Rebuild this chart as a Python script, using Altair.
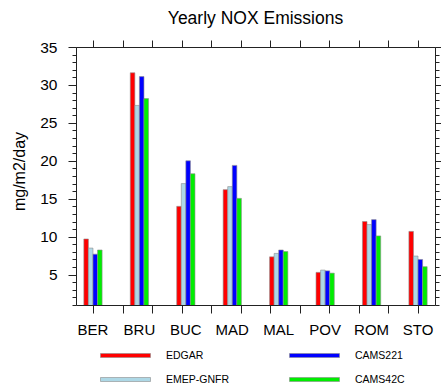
import altair as alt
import pandas as pd

sites = ["BER", "BRU", "BUC", "MAD", "MAL", "POV", "ROM", "STO"]
models = ["EDGAR", "EMEP-GNFR", "CAMS221", "CAMS42C"]
edgar = [9.7, 31.6, 14.0, 16.2, 7.35, 5.3, 12.0, 10.7]
emep = [8.5, 27.3, 17.0, 16.6, 7.8, 5.6, 11.6, 7.45]
cams221 = [7.7, 31.1, 20.0, 19.4, 8.25, 5.5, 12.25, 7.0]
cams42c = [8.25, 28.2, 18.3, 15.05, 8.05, 5.2, 10.1, 6.05]

model_colors = ["#ff0000", "#add8e6", "#0000ff", "#00ee00"]

y_major = [5, 10, 15, 20, 25, 30, 35]
y_minor = list(range(1, 36))
x_ticks = list(range(12))

series = {"EDGAR": edgar, "EMEP-GNFR": emep, "CAMS221": cams221, "CAMS42C": cams42c}
rows = []
for m in models:
    for s, v in zip(sites, series[m]):
        rows.append({"site": s, "model": m, "value": v})
df = pd.DataFrame(rows)

ydom = [1, 35]
xdom = [-0.575, 11.575]
FONT = "Liberation Sans"

bars = alt.Chart(df).mark_bar(stroke="#8c8c8c", strokeWidth=0.6, clip=True).encode(
    x=alt.X("site:N", sort=sites,
            scale=alt.Scale(paddingInner=0.607, paddingOuter=0.169),
            axis=alt.Axis(orient="bottom", ticks=False, labelAngle=0, labelFontSize=15,
                          labelPadding=17, labelFont=FONT, labelColor="black",
                          domain=True, title=None)),
    xOffset=alt.XOffset("model:N", sort=models,
                        scale=alt.Scale(paddingInner=0, paddingOuter=0)),
    y=alt.Y("value:Q", scale=alt.Scale(domain=ydom, nice=False, zero=False),
            axis=alt.Axis(orient="left", values=y_major, tickSize=8, labelPadding=11,
                          labelFontSize=15.5, labelFont=FONT, labelColor="black",
                          domain=True, grid=False,
                          title="mg/m2/day", titleFont=FONT, titleFontSize=16,
                          titleFontWeight="normal", titleColor="black",
                          titleAngle=270, titleBaseline="alphabetic",
                          titleAlign="center", titleX=-51.4, titleY=124)),
    color=alt.Color("model:N",
                    scale=alt.Scale(domain=models, range=model_colors),
                    legend=alt.Legend(orient="none", legendX=24, legendY=303,
                                      columns=2, title=None,
                                      symbolType="M-1,-0.4L9,-0.4L9,0.4L-1,0.4Z",
                                      symbolSize=100, symbolStrokeWidth=0.6,
                                      labelFontSize=10.5, labelFont=FONT,
                                      labelColor="black", labelOffset=55,
                                      rowPadding=13, columnPadding=59,
                                      symbolOpacity=1)),
)

dummy = pd.DataFrame({"xt": [x_ticks[0]], "yt": [y_minor[0]]})

layer_b = alt.Chart(dummy).mark_point(opacity=0).encode(
    x=alt.X("xt:Q", scale=alt.Scale(domain=xdom, nice=False, zero=False),
            axis=alt.Axis(orient="bottom", values=x_ticks, tickSize=8, labels=False,
                          domain=False, grid=False, title=None)),
    y=alt.Y("yt:Q", scale=alt.Scale(domain=ydom, nice=False, zero=False),
            axis=alt.Axis(orient="left", values=y_minor, tickSize=4, labels=False,
                          domain=False, grid=False, title=None)),
)

layer_c = alt.Chart(dummy).mark_point(opacity=0).encode(
    x=alt.X("xt:Q", scale=alt.Scale(domain=xdom, nice=False, zero=False),
            axis=alt.Axis(orient="top", values=x_ticks, tickSize=7, labels=False,
                          domain=True, grid=False, title=None)),
    y=alt.Y("yt:Q", scale=alt.Scale(domain=ydom, nice=False, zero=False),
            axis=alt.Axis(orient="right", values=y_major, tickSize=8, labels=False,
                          domain=True, grid=False, title=None)),
)

layer_d = alt.Chart(dummy).mark_point(opacity=0).encode(
    x=alt.X("xt:Q", scale=alt.Scale(domain=xdom, nice=False, zero=False), axis=None),
    y=alt.Y("yt:Q", scale=alt.Scale(domain=ydom, nice=False, zero=False),
            axis=alt.Axis(orient="right", values=y_minor, tickSize=4, labels=False,
                          domain=False, grid=False, title=None)),
)

chart = alt.layer(bars, layer_b, layer_c, layer_d).resolve_scale(
    x="independent", y="independent"
).properties(
    width=359, height=258,
    padding={"left": 76, "top": 47, "right": 6, "bottom": 83},
    autosize=alt.AutoSizeParams(type="none"),
    title=alt.TitleParams("Yearly NOX Emissions", font=FONT, fontSize=17.5,
                          fontWeight="normal", color="black", anchor="middle",
                          offset=12),
).configure_axis(
    domainColor="#222", tickColor="#222", domainWidth=1, tickWidth=1,
).configure_view(stroke=None)

chart.save("out.html", embed_options={"renderer": "svg", "actions": False})
